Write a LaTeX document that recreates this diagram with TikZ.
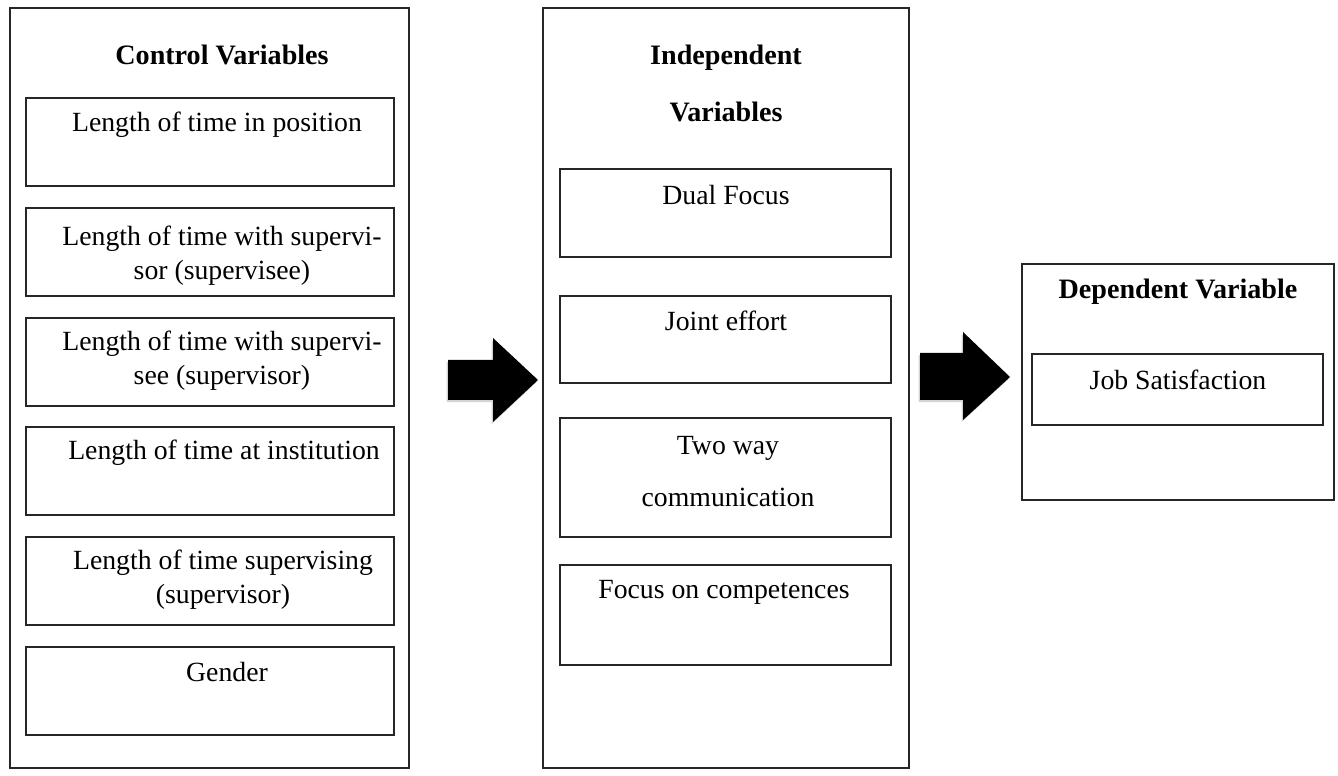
\documentclass[tikz,border=0pt]{standalone}
\usepackage{fontspec}
\setmainfont{Liberation Serif}
\usetikzlibrary{fit,shadows}

\begin{document}
\begin{tikzpicture}[x=0.02cm,y=-0.02cm,
    frame/.style={draw=black!85,line width=1pt,inner sep=0pt},
    vtext/.style={align=center,font=\fontsize{15.8}{19.5}\selectfont},
    vhead/.style={align=center,font=\fontsize{16}{32}\selectfont\bfseries},
    blockarrow/.style={fill=black,drop shadow={shadow xshift=-0.8pt,shadow yshift=-1.2pt,opacity=.35}}]
  \useasboundingbox (0,0) rectangle (1338,776);

  % control variables
  \node[frame,fit={(10,8) (409,768)}]   (ctrl) {};
  \node[vhead] (ctrlt) at (222,55) {Control Variables};
  \node[frame,fit={(26,98) (394,186)}]  (c1) {};
  \node[frame,fit={(26,208) (394,296)}] (c2) {};
  \node[frame,fit={(26,318) (394,406)}] (c3) {};
  \node[frame,fit={(26,427) (394,515)}] (c4) {};
  \node[frame,fit={(26,537) (394,625)}] (c5) {};
  \node[frame,fit={(26,647) (394,735)}] (c6) {};
  \node[vtext] (c1t) at (217,125) {Length of time in position};
  \node[vtext] (c2t) at (222,256) {Length of time with supervi-\\sor (supervisee)};
  \node[vtext] (c3t) at (222,361) {Length of time with supervi-\\see (supervisor)};
  \node[vtext] (c4t) at (224,453) {Length of time at institution};
  \node[vtext] (c5t) at (223,580) {Length of time supervising\\(supervisor)};
  \node[vtext] (c6t) at (227,672) {Gender};

  % independent variables
  \node[frame,fit={(543,8) (909,768)}]   (indep) {};
  \node[vhead] (indept) at (726,83.5) {Independent\\Variables};
  \node[frame,fit={(560,169) (891,257)}] (i1) {};
  \node[frame,fit={(560,296) (891,383)}] (i2) {};
  \node[frame,fit={(560,418) (891,537)}] (i3) {};
  \node[frame,fit={(560,565) (891,665)}] (i4) {};
  \node[vtext] (i1t) at (726,195) {Dual Focus};
  \node[vtext] (i2t) at (726,321) {Joint effort};
  \node[vtext,font=\fontsize{15.8}{30}\selectfont] (i3t) at (728,471.5) {Two way\\communication};
  \node[vtext] (i4t) at (724,592) {Focus on competences};

  % dependent variable
  \node[frame,fit={(1022,264) (1334,500)}]  (dep) {};
  \node[vhead] (dept) at (1178,292) {Dependent Variable};
  \node[frame,fit={(1032,354) (1323,425)}]  (d1) {};
  \node[vtext] (d1t) at (1178,380) {Job Satisfaction};

  % block arrows
  \fill[blockarrow] (448,360) -- (493,360) -- (493,338) -- (538,380)
    -- (493,422) -- (493,400) -- (448,400) -- cycle;
  \fill[blockarrow] (920,353) -- (963,353) -- (963,332) -- (1010,377)
    -- (963,420) -- (963,400) -- (920,400) -- cycle;
\end{tikzpicture}
\end{document}
